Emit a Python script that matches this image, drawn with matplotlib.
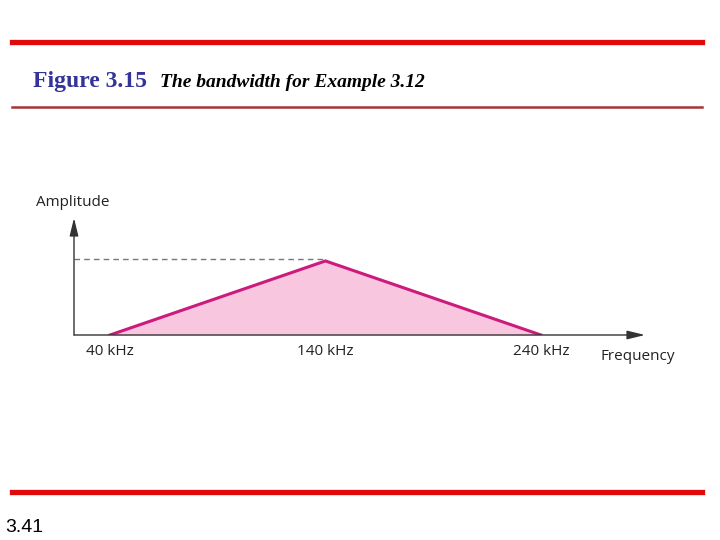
import matplotlib
matplotlib.use('Agg')
import matplotlib.pyplot as plt

# spectrum of the signal (kHz, relative amplitude)
freqs = [40, 140, 240]
amps = [0, 1, 0]
tick_labels = ['40 kHz', '140 kHz', '240 kHz']

fig = plt.figure(figsize=(7.2, 5.4), dpi=100)

# slide decoration: red rules, title, page number
fig.add_artist(plt.Line2D([12/720, 702/720], [1 - 42/540] * 2, color='#e10a0a', lw=3.8))
fig.add_artist(plt.Line2D([12/720, 702/720], [1 - 107/540] * 2, color='#a83434', lw=1.8))
fig.add_artist(plt.Line2D([12/720, 702/720], [1 - 492/540] * 2, color='#e10a0a', lw=3.8))
fig.text(33/720, 1 - 87/540, 'Figure 3.15', family='Liberation Serif', weight='bold',
         color='#333399', fontsize=17, va='baseline')
fig.text(160/720, 1 - 87/540, 'The bandwidth for Example 3.12', family='Liberation Serif',
         weight='bold', style='italic', fontsize=14, va='baseline', color='black')
fig.text(5/720, 1 - 532/540, '3.41', family='Liberation Sans', fontsize=14, va='baseline')

# axes placed so that origin sits at (74, 335) px
ax = fig.add_axes([74/720, 205/540, 571/720, 117/540])
ax.set_xlim(23.3, 288.3)
ax.set_ylim(0, 1.58)
ax.axis('off')

ax.fill_between(freqs, amps, color='#f9c6e0', lw=0)
ax.plot(freqs, amps, color='#cc1a7d', lw=2.2, solid_joinstyle='miter')
ax.plot([23.3, freqs[1]], [amps[1] * 1.02] * 2, ls='--', color='#777777', lw=1, dashes=(4, 3))

# axis arrows
arrow = dict(arrowstyle='-|>,head_length=0.9,head_width=0.22', color='#333333',
             lw=1, mutation_scale=12, shrinkA=0, shrinkB=0)
ax.annotate('', xy=(288.3, 0), xytext=(23.3, 0), arrowprops=arrow, annotation_clip=False)
ax.annotate('', xy=(23.3, 1.58), xytext=(23.3, 0), arrowprops=arrow, annotation_clip=False)

for f, lab in zip(freqs, tick_labels):
    ax.text(f, -0.12, lab, ha='center', va='top', fontsize=11, family='Open Sans', color='#222222')
ax.text(0.988, -0.12, 'Frequency', transform=ax.transAxes, ha='center', va='top',
        fontsize=11, family='Open Sans', color='#222222')
ax.text(-0.066, 1.13, 'Amplitude', transform=ax.transAxes, ha='left', va='center',
        fontsize=11, family='Open Sans', color='#222222')

fig.savefig('out.png', dpi=100)
